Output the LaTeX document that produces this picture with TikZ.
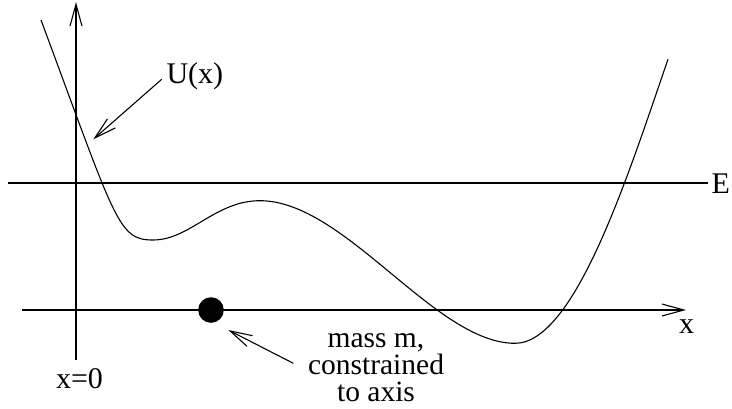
\documentclass[tikz,border=0pt]{standalone}
\usepackage{fontspec}
\setmainfont{Liberation Serif}
\usetikzlibrary{arrows.meta}
\begin{document}
\begin{tikzpicture}[x=1pt,y=-1pt,line width=1.1pt,
  tipped/.style={-{Straight Barb[length=22pt,width=12pt,line width=1.1pt]}},
  lbl/.style={inner sep=0pt,font=\fontsize{30}{26}\selectfont},
  masslbl/.style={inner sep=0pt,font=\fontsize{29.5}{27}\selectfont}]
\useasboundingbox (0,0) rectangle (732,408);
% axes
\coordinate (vb) at (76,360);
\coordinate (vt) at (76,2);
\coordinate (hl) at (22,310);
\coordinate (hr) at (686,310);
\coordinate (el) at (8,183);
\coordinate (er) at (708,183);
\draw[tipped] (vb) -- (vt);
\draw[tipped] (hl) -- (hr);
\draw (el) -- (er);
% potential curve
\coordinate (c0) at (41,20);
\coordinate (c1) at (153,240);
\coordinate (c2) at (260,200.7);
\coordinate (c3) at (515,343.3);
\coordinate (c4) at (668,59.3);
\draw (c0) .. controls (116,221.8) and (118,240) .. (c1)
      .. controls (190,240) and (215,200.7) .. (c2)
      .. controls (345,200.7) and (435,343.3) .. (c3)
      .. controls (575,343.3) and (628,175.3) .. (c4);
% labels
\node[lbl,anchor=base west] (U) at (166,83) {U(x)};
\node[lbl,anchor=base west] (E) at (711,193) {E};
\node[lbl,anchor=base] (xl) at (686.5,333) {x};
\node[lbl,anchor=base] (x0) at (79.5,388.3) {x=0};
\node[masslbl,anchor=north,align=center] (mass) at (376,333) {mass m,\\constrained\\to axis};
% mass
\node[circle,fill,inner sep=0pt,minimum size=25.6pt] (m) at (211,310) {};
% pointers
\coordinate (us) at (161.7,79.3);
\coordinate (ut) at (93.3,139.3);
\draw[tipped] (us) -- (ut);
\coordinate (ms) at (293.3,363.3);
\coordinate (mt) at (228.3,330);
\draw[tipped] (ms) -- (mt);
\end{tikzpicture}
\end{document}
